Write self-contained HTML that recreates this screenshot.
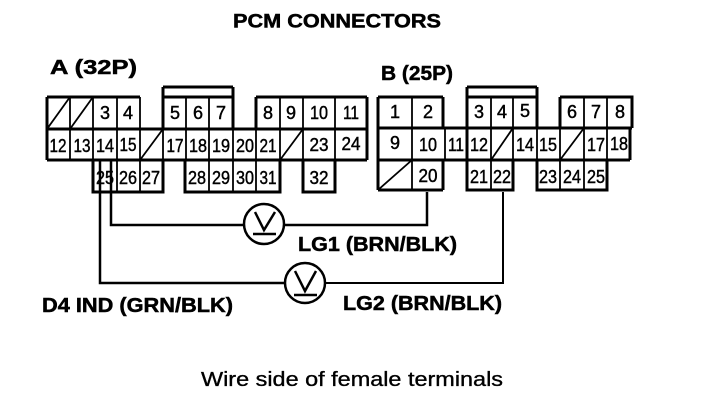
<!DOCTYPE html>
<html><head><meta charset="utf-8"><style>
html,body{margin:0;padding:0;background:#fff}
svg{display:block}
text{font-family:"Liberation Sans",sans-serif;fill:#000}
.t{font-weight:bold;font-size:20px;stroke:#000;stroke-width:.5}
.n text{font-size:18px;text-anchor:middle;stroke:#000;stroke-width:.45}
.l{fill:none;stroke:#000;stroke-width:3}
.s{fill:none;stroke:#000;stroke-width:1.8}
.w{fill:none;stroke:#000;stroke-width:2.5}
.w2{fill:none;stroke:#000;stroke-width:2}
</style></head><body>
<svg width="704" height="412" viewBox="0 0 704 412" xmlns="http://www.w3.org/2000/svg">
<rect width="704" height="412" fill="#fff"/>
<text class="t" x="233" y="27.5" style="font-size:19px" textLength="208" lengthAdjust="spacingAndGlyphs">PCM CONNECTORS</text>
<text class="t" x="50" y="74" textLength="87" lengthAdjust="spacingAndGlyphs">A (32P)</text>
<text class="t" x="381" y="80" textLength="72" lengthAdjust="spacingAndGlyphs">B (25P)</text>

<!-- Connector A -->
<path class="l" d="M47 97H140M47 129H367M47 160H367M47 97V160M93 160V192H163V160M185 160V192H280V160M303 160V192H335V160M163 97H233M163 87H233M163 87V129M233 87V129M256 97H367M256 97V129M367 97V160"/>
<path class="s" d="M70 97V160M93 97V160M117 97V192M140 97V192M186 97V160M209 97V192M233 129V192M256 129V192M280 97V160M303 97V160M335 97V160M163 129V160"/>
<path class="s" d="M47 129L70 97M70 129L93 97M140 160L163 129M280 160L303 129"/>

<!-- Connector B -->
<path class="l" d="M378 97H443M378 128H632M378 160H630M378 190H443M378 97V190M443 97V128M443 160V190M467 97V190H513V160M467 87H537M467 87V97M537 87V128M467 97H537M537 160V190H607V160M560 97H632V128M560 97V128M630 128V160"/>
<path class="s" d="M412 97V190M445 128V160M491 97V190M513 97V160M537 128V160M560 128V190M584 97V190M607 97V160"/>
<path class="s" d="M378 190L412 160M491 160L513 128M560 160L584 128"/>

<!-- Numbers -->
<g class="n">
<text x="105" y="119">3</text><text x="128" y="119">4</text><text x="175" y="119">5</text><text x="198" y="119">6</text><text x="221" y="119">7</text><text x="268" y="119">8</text><text x="291" y="119">9</text><text x="319" y="119" textLength="18" lengthAdjust="spacingAndGlyphs">10</text><text x="351" y="119" textLength="16" lengthAdjust="spacingAndGlyphs">11</text>
<text x="58" y="152" textLength="17" lengthAdjust="spacingAndGlyphs">12</text><text x="82" y="152" textLength="17" lengthAdjust="spacingAndGlyphs">13</text><text x="105" y="152" textLength="18" lengthAdjust="spacingAndGlyphs">14</text><text x="128" y="151" textLength="17" lengthAdjust="spacingAndGlyphs">15</text><text x="175" y="152" textLength="17" lengthAdjust="spacingAndGlyphs">17</text><text x="198" y="152" textLength="18" lengthAdjust="spacingAndGlyphs">18</text><text x="221" y="152" textLength="18" lengthAdjust="spacingAndGlyphs">19</text><text x="245" y="152" textLength="18" lengthAdjust="spacingAndGlyphs">20</text><text x="268" y="152" textLength="17" lengthAdjust="spacingAndGlyphs">21</text><text x="319" y="151" textLength="19" lengthAdjust="spacingAndGlyphs">23</text><text x="351" y="150" textLength="19" lengthAdjust="spacingAndGlyphs">24</text>
<text x="105" y="184" textLength="18" lengthAdjust="spacingAndGlyphs">25</text><text x="128" y="184" textLength="18" lengthAdjust="spacingAndGlyphs">26</text><text x="151" y="184" textLength="18" lengthAdjust="spacingAndGlyphs">27</text><text x="197" y="184" textLength="18" lengthAdjust="spacingAndGlyphs">28</text><text x="221" y="184" textLength="18" lengthAdjust="spacingAndGlyphs">29</text><text x="245" y="184" textLength="18" lengthAdjust="spacingAndGlyphs">30</text><text x="268" y="184" textLength="17" lengthAdjust="spacingAndGlyphs">31</text><text x="319" y="184" textLength="19" lengthAdjust="spacingAndGlyphs">32</text>
<text x="395" y="118">1</text><text x="428" y="118">2</text><text x="479" y="118">3</text><text x="502" y="118">4</text><text x="525" y="117">5</text><text x="572" y="118">6</text><text x="596" y="118">7</text><text x="620" y="118">8</text>
<text x="395" y="149">9</text><text x="428" y="151" textLength="18" lengthAdjust="spacingAndGlyphs">10</text><text x="456" y="151" textLength="16" lengthAdjust="spacingAndGlyphs">11</text><text x="479" y="151" textLength="18" lengthAdjust="spacingAndGlyphs">12</text><text x="525" y="151" textLength="18" lengthAdjust="spacingAndGlyphs">14</text><text x="548" y="151" textLength="18" lengthAdjust="spacingAndGlyphs">15</text><text x="596" y="151" textLength="18" lengthAdjust="spacingAndGlyphs">17</text><text x="619" y="150" textLength="18" lengthAdjust="spacingAndGlyphs">18</text>
<text x="428" y="182" textLength="19" lengthAdjust="spacingAndGlyphs">20</text><text x="479" y="183" textLength="18" lengthAdjust="spacingAndGlyphs">21</text><text x="502" y="183" textLength="18" lengthAdjust="spacingAndGlyphs">22</text><text x="548" y="183" textLength="18" lengthAdjust="spacingAndGlyphs">23</text><text x="572" y="183" textLength="18" lengthAdjust="spacingAndGlyphs">24</text><text x="596" y="183" textLength="18" lengthAdjust="spacingAndGlyphs">25</text>
</g>

<!-- Wires -->
<path class="w" d="M111 160V225H244M284 225H427V192M100 160V283H285"/>
<path class="w2" d="M325 283H503V192"/>
<g class="w">
<circle cx="264" cy="224" r="20"/><circle cx="305" cy="283" r="20"/>
<path d="M255 212L264 230L275 212M253 234H276M295 271L305 291L316 271M294 295H317"/>
</g>

<text class="t" x="298" y="251" textLength="159" lengthAdjust="spacingAndGlyphs">LG1 (BRN/BLK)</text>
<text class="t" x="42" y="312" textLength="191" lengthAdjust="spacingAndGlyphs">D4 IND (GRN/BLK)</text>
<text class="t" x="343" y="310" textLength="159" lengthAdjust="spacingAndGlyphs">LG2 (BRN/BLK)</text>
<text x="201" y="386" font-size="20" stroke="#000" stroke-width=".35" textLength="302" lengthAdjust="spacingAndGlyphs">Wire side of female terminals</text>
</svg>
</body></html>
